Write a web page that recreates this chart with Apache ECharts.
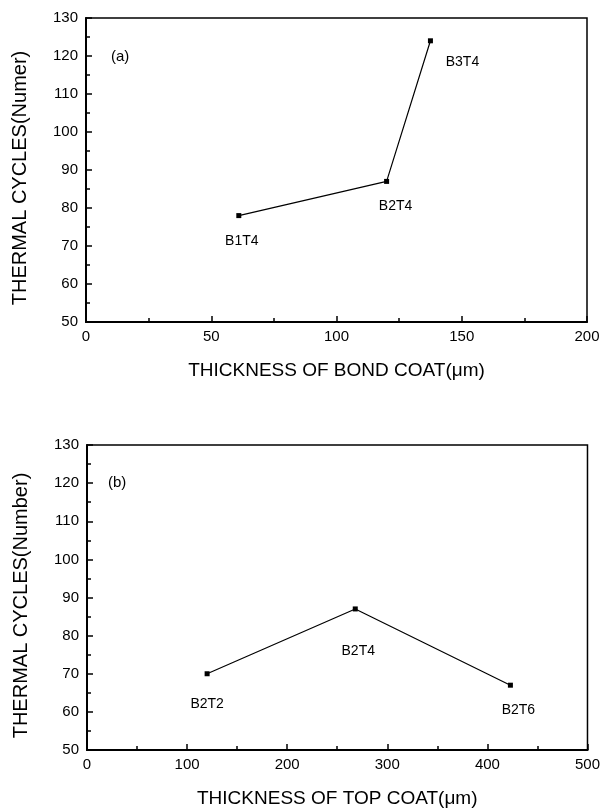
<!DOCTYPE html>
<html><head><meta charset="utf-8">
<script src="https://cdn.jsdelivr.net/npm/echarts@6/dist/echarts.min.js"></script>
<style>html,body{margin:0;padding:0;background:#fff}#c{width:603px;height:809px}</style>
</head><body><div id="c"></div>
<script>
// Panel (a): thermal cycles vs bond coat thickness
const bondThickness = [61, 120, 137.5];
const bondCycles = [78, 87, 124];
const bondLabels = ['B1T4', 'B2T4', 'B3T4'];
// Panel (b): thermal cycles vs top coat thickness
const topThickness = [120, 268, 423];
const topCycles = [70, 87, 67];
const topLabels = ['B2T2', 'B2T4', 'B2T6'];

const bondOffsets = [[3, 26], [9, 25], [32, 21]];
const topOffsets = [[0, 30], [3, 42], [8, 25]];

const FONT = '"Liberation Sans", Arial, sans-serif';

function xAxis(gridIndex, max, interval, name) {
  return {
    type: 'value', gridIndex, min: 0, max, interval,
    name, nameLocation: 'middle', nameGap: 39,
    nameTextStyle: { fontFamily: FONT, fontSize: 19, color: '#000' },
    axisLine: { show: true, lineStyle: { color: '#000', width: 2 } },
    axisTick: { show: true, inside: true, length: 6, lineStyle: { color: '#000', width: 1.5 } },
    minorTick: { show: true, splitNumber: 2, length: 4, lineStyle: { color: '#000', width: 1.5 } },
    axisLabel: { fontFamily: FONT, fontSize: 15, color: '#000', margin: 7 },
    splitLine: { show: false }
  };
}
function yAxis(gridIndex, name) {
  return {
    type: 'value', gridIndex, min: 50, max: 130, interval: 10,
    name, nameLocation: 'middle', nameGap: 56,
    nameTextStyle: { fontFamily: FONT, fontSize: 20, color: '#000', padding: [0, 16, 0, 0] },
    axisLine: { show: true, lineStyle: { color: '#000', width: 2 } },
    axisTick: { show: true, inside: true, length: 6, lineStyle: { color: '#000', width: 1.5 } },
    minorTick: { show: true, splitNumber: 2, length: 4, lineStyle: { color: '#000', width: 1.5 } },
    axisLabel: { fontFamily: FONT, fontSize: 15, color: '#000', margin: 8 },
    splitLine: { show: false }
  };
}
function series(idx, xs, ys, labels, offsets) {
  return {
    type: 'line', xAxisIndex: idx, yAxisIndex: idx,
    symbol: 'rect', symbolSize: 5,
    itemStyle: { color: '#000' },
    lineStyle: { color: '#000', width: 1.2 },
    data: xs.map((x, i) => ({
      value: [x, ys[i]], name: labels[i],
      label: { show: true, position: 'inside', offset: offsets[i], formatter: labels[i],
               fontFamily: FONT, fontSize: 14, color: '#000' }
    })),
    animation: false
  };
}

const chart = echarts.init(document.getElementById('c'), null, { renderer: 'canvas' });
chart.setOption({
  backgroundColor: '#fff',
  animation: false,
  grid: [
    { left: 86, top: 18, width: 501, height: 304, show: true, borderColor: '#000', borderWidth: 1.5 },
    { left: 87, top: 445, width: 502, height: 306, show: true, borderColor: '#000', borderWidth: 1.5 }
  ],
  xAxis: [
    xAxis(0, 200, 50, 'THICKNESS OF BOND COAT(\u03bcm)'),
    xAxis(1, 500, 100, 'THICKNESS OF TOP COAT(\u03bcm)')
  ],
  yAxis: [
    yAxis(0, 'THERMAL CYCLES(Numer)'),
    yAxis(1, 'THERMAL CYCLES(Number)')
  ],
  series: [
    series(0, bondThickness, bondCycles, bondLabels, bondOffsets),
    series(1, topThickness, topCycles, topLabels, topOffsets)
  ],
  graphic: [
    { type: 'text', left: 111, top: 49, style: { text: '(a)', font: '15px ' + FONT, fill: '#000' } },
    { type: 'text', left: 108, top: 475, style: { text: '(b)', font: '15px ' + FONT, fill: '#000' } }
  ]
});
</script>
</body></html>
